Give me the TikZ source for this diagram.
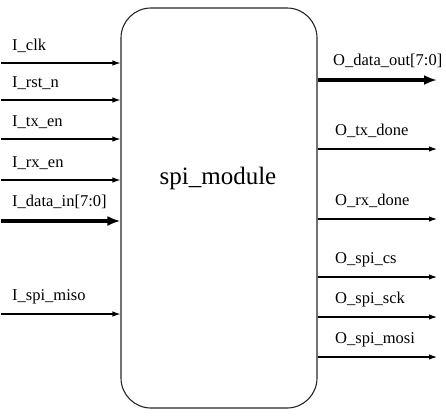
\documentclass[tikz,border=0pt]{standalone}
\usepackage{fontspec}
\setmainfont{Liberation Serif}
\usetikzlibrary{arrows.meta}
\begin{document}
\begin{tikzpicture}[x=1pt,y=-1pt]
                      \tikzstyle{port}=[line width=1.1pt,-{Latex[length=8pt,width=5.5pt]}]
                      \tikzstyle{bus}=[line width=3.6pt,-{Latex[length=13pt,width=10pt]}]
                      \tikzstyle{sig}=[inner sep=0pt,anchor=base west,font=\fontsize{16.5}{18}\selectfont]
                      \useasboundingbox (0,0) rectangle (446,416);
                      \node (spi) at (219,208) [draw=black!85, line width=1.1pt, rounded corners=30pt, minimum width=196pt, minimum height=400pt, inner sep=0pt] {};
                      \node (name) at (218,178) {\fontsize{25}{30}\selectfont spi\_module};
                      % inputs
                      \coordinate (clk) at (1,63);
                      \coordinate (rst) at (1,100);
                      \coordinate (txen) at (1,139);
                      \coordinate (rxen) at (1,180);
                      \coordinate (din) at (1,221);
                      \coordinate (miso) at (1,314);
                      \draw[port] (clk) -- (clk -| spi.west);
                      \draw[port] (rst) -- (rst -| spi.west);
                      \draw[port] (txen) -- (txen -| spi.west);
                      \draw[port] (rxen) -- (rxen -| spi.west);
                      \draw[bus] (din) -- (din -| spi.west);
                      \draw[port] (miso) -- (miso -| spi.west);
                      \node[sig] (lclk) at (12,50) {I\_clk};
                      \node[sig] (lrst) at (12,87) {I\_rst\_n};
                      \node[sig] (ltxen) at (12,126) {I\_tx\_en};
                      \node[sig] (lrxen) at (12,167) {I\_rx\_en};
                      \node[sig] (ldin) at (12,206) {I\_data\_in[7:0]};
                      \node[sig] (lmiso) at (12,300) {I\_spi\_miso};
                      % outputs
                      \coordinate (dout) at (437,80);
                      \coordinate (txdone) at (437,149);
                      \coordinate (rxdone) at (437,219);
                      \coordinate (cs) at (437,277);
                      \coordinate (sck) at (437,317);
                      \coordinate (mosi) at (437,357);
                      \draw[bus] (spi.east |- dout) -- (dout);
                      \draw[port] (spi.east |- txdone) -- (txdone);
                      \draw[port] (spi.east |- rxdone) -- (rxdone);
                      \draw[port] (spi.east |- cs) -- (cs);
                      \draw[port] (spi.east |- sck) -- (sck);
                      \draw[port] (spi.east |- mosi) -- (mosi);
                      \node[sig] (ldout) at (333,65) {O\_data\_out[7:0]};
                      \node[sig] (ltxdone) at (335,135) {O\_tx\_done};
                      \node[sig] (lrxdone) at (335,205) {O\_rx\_done};
                      \node[sig] (lcs) at (335,263) {O\_spi\_cs};
                      \node[sig] (lsck) at (335,303) {O\_spi\_sck};
                      \node[sig] (lmosi) at (335,343) {O\_spi\_mosi};
                  \end{tikzpicture}
\end{document}
